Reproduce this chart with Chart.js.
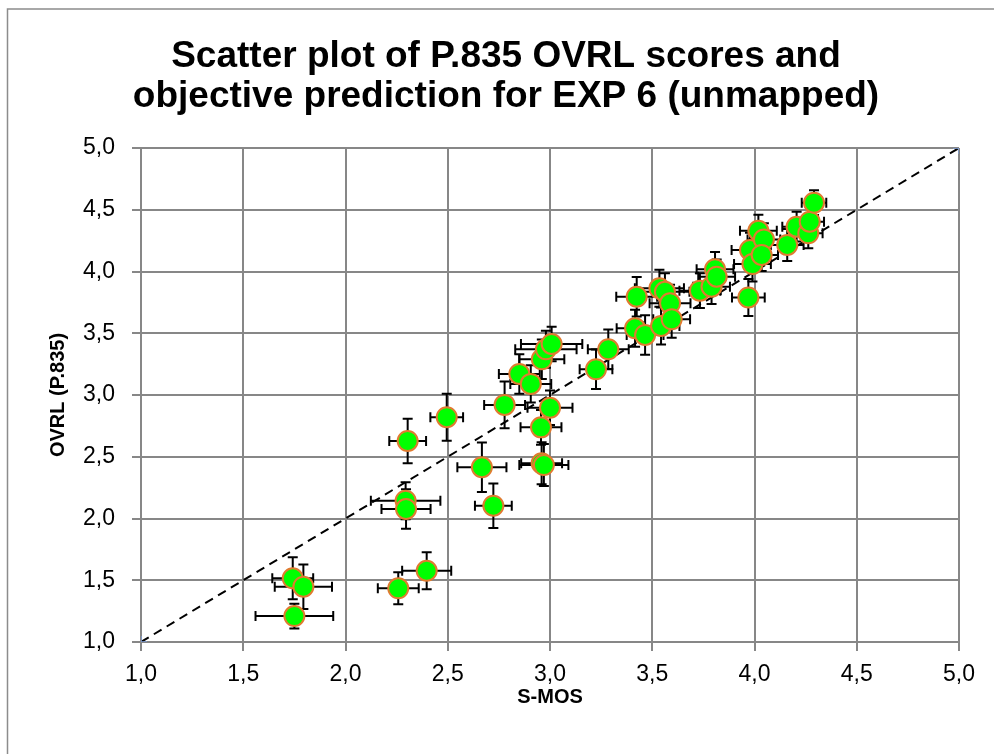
<!DOCTYPE html>
<html>
<head>
<meta charset="utf-8">
<script src="https://cdn.jsdelivr.net/npm/chart.js@4"></script>
<style>
  html, body { margin: 0; padding: 0; background: #fff; }
  #wrap { width: 994px; height: 754px; }
</style>
</head>
<body>
<div id="wrap"><canvas id="scatterChart" width="994" height="754"></canvas></div>
<script>
// S-MOS (objective) vs OVRL (P.835) per condition, with 95% CI half-widths
const smos = [1.742, 1.794, 1.750, 2.258, 2.397, 2.294, 2.296, 2.304, 2.495, 2.667,
              2.723, 2.959, 2.970, 2.956, 3.000, 2.778, 2.850, 2.906, 2.960, 2.980,
              3.008, 3.225, 3.285, 3.424, 3.416, 3.465, 3.535, 3.562, 3.587, 3.543,
              3.595, 3.733, 3.790, 3.807, 3.815, 3.970, 3.978, 3.990, 4.019, 4.046,
              4.035, 4.160, 4.206, 4.263, 4.270, 4.291];
const ovrl = [1.516, 1.448, 1.210, 1.435, 1.577, 2.144, 2.077, 2.628, 2.820, 2.415,
              2.104, 2.447, 2.433, 2.738, 2.897, 2.920, 3.170, 3.090, 3.289, 3.370,
              3.413, 3.208, 3.370, 3.796, 3.540, 3.486, 3.864, 3.836, 3.742, 3.559,
              3.613, 3.845, 3.877, 4.018, 3.958, 3.790, 4.174, 4.060, 4.330, 4.260,
              4.134, 4.215, 4.363, 4.309, 4.403, 4.557];
const smosCi = [0.10, 0.14, 0.19, 0.10, 0.12, 0.17, 0.12, 0.09, 0.08, 0.12,
                0.09, 0.10, 0.12, 0.10, 0.11, 0.10, 0.10, 0.10, 0.11, 0.15,
                0.15, 0.08, 0.10, 0.10, 0.09, 0.09, 0.12, 0.12, 0.10, 0.09,
                0.09, 0.10, 0.09, 0.09, 0.09, 0.08, 0.09, 0.09, 0.09, 0.08,
                0.08, 0.08, 0.07, 0.07, 0.07, 0.06];
const ovrlCi = [0.17, 0.18, 0.10, 0.13, 0.15, 0.15, 0.16, 0.18, 0.19, 0.20,
                0.18, 0.17, 0.17, 0.14, 0.14, 0.19, 0.16, 0.15, 0.16, 0.15,
                0.14, 0.16, 0.16, 0.16, 0.15, 0.16, 0.15, 0.15, 0.15, 0.15,
                0.15, 0.14, 0.14, 0.14, 0.14, 0.15, 0.14, 0.14, 0.13, 0.13,
                0.13, 0.13, 0.12, 0.12, 0.12, 0.10];
const axisTicks = [1.0, 1.5, 2.0, 2.5, 3.0, 3.5, 4.0, 4.5, 5.0];
const identity = [1.0, 5.0];

const FONT = "'Liberation Sans', Arial, sans-serif";
const GRID = '#878787';

const fmt = v => Number(v).toFixed(1).replace('.', ',');

// white page plus the grey chart frame
const frame = {
  id: 'frame',
  beforeDraw(chart) {
    const ctx = chart.ctx;
    ctx.save();
    ctx.fillStyle = '#fff';
    ctx.fillRect(0, 0, chart.width, chart.height);
    ctx.strokeStyle = '#8c8c8c';
    ctx.lineWidth = 1.5;
    ctx.strokeRect(7.5, 9, chart.width + 20, chart.height + 20);
    ctx.restore();
  }
};

// horizontal and vertical confidence intervals under the markers
const errorBars = {
  id: 'errorBars',
  beforeDatasetsDraw(chart) {
    const { ctx, scales: { x, y } } = chart;
    const cap = 5;
    ctx.save();
    ctx.strokeStyle = '#000';
    ctx.lineWidth = 2;
    smos.forEach((sv, i) => {
      const px = x.getPixelForValue(sv);
      const py = y.getPixelForValue(ovrl[i]);
      const xl = x.getPixelForValue(sv - smosCi[i]);
      const xr = x.getPixelForValue(sv + smosCi[i]);
      const yt = y.getPixelForValue(ovrl[i] + ovrlCi[i]);
      const yb = y.getPixelForValue(ovrl[i] - ovrlCi[i]);
      ctx.beginPath();
      ctx.moveTo(xl, py); ctx.lineTo(xr, py);
      ctx.moveTo(xl, py - cap); ctx.lineTo(xl, py + cap);
      ctx.moveTo(xr, py - cap); ctx.lineTo(xr, py + cap);
      ctx.moveTo(px, yt); ctx.lineTo(px, yb);
      ctx.moveTo(px - cap, yt); ctx.lineTo(px + cap, yt);
      ctx.moveTo(px - cap, yb); ctx.lineTo(px + cap, yb);
      ctx.stroke();
    });
    ctx.restore();
  }
};

const ctx = document.getElementById('scatterChart').getContext('2d');
const scatterChart = new Chart(ctx, {
  type: 'scatter',
  data: {
    datasets: [{
      label: 'Conditions',
      data: smos.map((v, i) => ({ x: v, y: ovrl[i] })),
      backgroundColor: '#00ff00',
      borderColor: '#e07b30',
      borderWidth: 2,
      pointRadius: 10,
      pointHoverRadius: 10,
      order: 1
    }, {
      label: 'y = x',
      type: 'line',
      data: identity.map(v => ({ x: v, y: v })),
      borderColor: '#000',
      borderWidth: 2,
      borderDash: [9, 6],
      pointStyle: 'cross',
      pointRadius: 6,
      pointBorderColor: '#7f9fd6',
      pointBorderWidth: 1.5,
      fill: false,
      order: 2
    }]
  },
  options: {
    responsive: false,
    animation: false,
    layout: { padding: { left: 53, right: 35, top: 0, bottom: 0 } },
    plugins: {
      legend: { display: false },
      tooltip: { enabled: false },
      title: {
        display: true,
        text: ['Scatter plot of P.835 OVRL scores and', 'objective prediction for EXP 6 (unmapped)'],
        color: '#000',
        font: { family: FONT, size: 37, weight: 'bold', lineHeight: 1.1 },
        padding: { top: 36, bottom: 30.6 }
      }
    },
    scales: {
      x: {
        type: 'linear',
        min: 1, max: 5,
        afterBuildTicks: s => { s.ticks = axisTicks.map(v => ({ value: v })); },
        afterFit: s => { s.height = 112; },
        ticks: { callback: fmt, color: '#000', font: { family: FONT, size: 23 }, padding: 10, maxRotation: 0 },
        grid: { color: GRID, lineWidth: 2, tickLength: 9 },
        border: { color: GRID, width: 2 },
        title: {
          display: true, text: 'S-MOS', color: '#000',
          font: { family: FONT, size: 20, weight: 'bold' },
          padding: { top: 0, bottom: 45 }
        }
      },
      y: {
        type: 'linear',
        min: 1, max: 5,
        afterBuildTicks: s => { s.ticks = axisTicks.map(v => ({ value: v })); },
        afterFit: s => { s.width = 88; },
        ticks: { callback: fmt, color: '#000', font: { family: FONT, size: 23 }, padding: 17 },
        grid: { color: GRID, lineWidth: 2, tickLength: 9 },
        border: { color: GRID, width: 2 },
        title: {
          display: true, text: 'OVRL (P.835)', color: '#000',
          font: { family: FONT, size: 20, weight: 'bold' },
          padding: { top: -7, bottom: 0 }
        }
      }
    }
  },
  plugins: [frame, errorBars]
});
</script>
</body>
</html>
